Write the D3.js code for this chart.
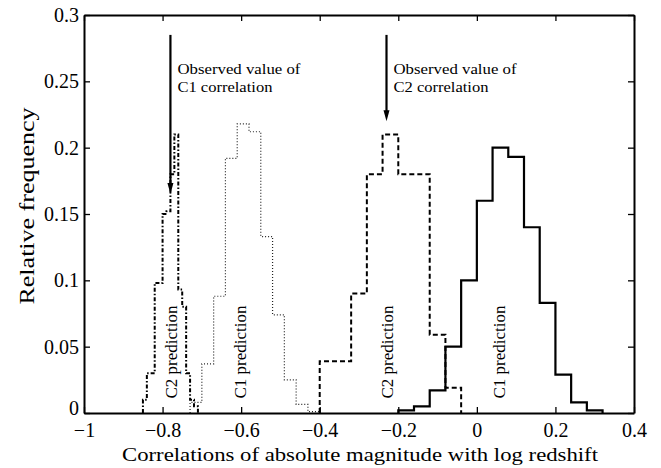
<!DOCTYPE html>
<html>
<head>
<meta charset="utf-8">
<script src="https://cdn.jsdelivr.net/npm/d3@7"></script>
<style>
  html, body { margin: 0; padding: 0; background: #fff; }
  svg { display: block; }
  text { font-family: "Liberation Serif", "DejaVu Serif", serif; fill: #000; }
</style>
</head>
<body>
<svg id="chart" width="661" height="468"></svg>
<script>
// ---- data ----
const xTicks = [-1, -0.8, -0.6, -0.4, -0.2, 0, 0.2, 0.4];
const yTicks = [0, 0.05, 0.1, 0.15, 0.2, 0.25, 0.3];

// C1 prediction (solid), bin edges and relative frequencies
const c1SolidEdges = [-0.2, -0.16, -0.12, -0.08, -0.04, 0, 0.04, 0.08, 0.12, 0.16, 0.2, 0.24, 0.28, 0.32];
const c1SolidFreq  = [0.002, 0.005, 0.017, 0.05, 0.1, 0.16, 0.2, 0.193, 0.14, 0.083, 0.029, 0.008, 0.002];

// C2 prediction (dashed)
const c2DashEdges = [-0.4, -0.36, -0.32, -0.28, -0.24, -0.2, -0.16, -0.12, -0.08, -0.04];
const c2DashFreq  = [0.039, 0.039, 0.09, 0.18, 0.21, 0.18, 0.18, 0.059, 0.019];

// C1 prediction (dotted)
const c1DotEdges = [-0.73, -0.70, -0.67, -0.64, -0.61, -0.58, -0.55, -0.52, -0.49, -0.46, -0.43, -0.40];
const c1DotFreq  = [0.008, 0.037, 0.088, 0.192, 0.218, 0.212, 0.133, 0.074, 0.025, 0.0065, 0.001];

// C2 prediction (dash-dot)
const c2DashDotEdges = [-0.85, -0.84, -0.83, -0.82, -0.81, -0.80, -0.79, -0.78, -0.77, -0.76, -0.75, -0.74, -0.73, -0.72, -0.71];
const c2DashDotFreq  = [0.01, 0.03, 0.03, 0.098, 0.098, 0.15, 0.152, 0.18, 0.21, 0.093, 0.08, 0.03, 0.01, 0.005];

// observed values (arrows)
const observedX     = [-0.78, -0.23];
const observedTop   = [0.285, 0.285];
const observedTip   = [0.165, 0.22];
const observedLine1 = ["Observed value of", "Observed value of"];
const observedLine2 = ["C1 correlation", "C2 correlation"];

// prediction labels
const predLabelX    = [-0.777, -0.6, -0.225, 0.06];
const predLabelText = ["C2 prediction", "C1 prediction", "C2 prediction", "C1 prediction"];
const predLabelY    = 0.046;

// ---- layout ----
const margin = { left: 84, right: 27, top: 15, bottom: 55 };
const W = 661, H = 468;
const svg = d3.select("#chart");

const x = d3.scaleLinear().domain([-1, 0.4]).range([margin.left, W - margin.right]);
const y = d3.scaleLinear().domain([0, 0.3]).range([H - margin.bottom, margin.top]);

const g = svg.append("g");

// step path builder
function stepPoints(edges, freq) {
  const pts = [[edges[0], 0]];
  freq.forEach((v, i) => { pts.push([edges[i], v]); pts.push([edges[i + 1], v]); });
  pts.push([edges[edges.length - 1], 0]);
  return pts;
}
const line = d3.line().x(d => x(d[0])).y(d => y(d[1]));

const series = [
  { edges: c1DotEdges, freq: c1DotFreq, width: 1.2, dash: "1,2", color: "#222" },
  { edges: c2DashDotEdges, freq: c2DashDotFreq, width: 2, dash: "4,2,1.5,2", color: "#000" },
  { edges: c2DashEdges, freq: c2DashFreq, width: 2, dash: "5,3", color: "#000" },
  { edges: c1SolidEdges, freq: c1SolidFreq, width: 2.2, dash: null, color: "#000" }
];
series.forEach(s => {
  g.append("path")
    .attr("d", line(stepPoints(s.edges, s.freq)))
    .attr("fill", "none")
    .attr("stroke", s.color)
    .attr("stroke-width", s.width)
    .attr("stroke-dasharray", s.dash)
    .attr("stroke-linejoin", "miter");
});

// axes (box with inward ticks on all sides)
const fmtX = d => d === 0 ? "0" : d3.format("")(d).replace("-", "\u2212");
const fmtY = d => String(d);

const axB = g.append("g").attr("transform", `translate(0,${y(0)})`)
  .call(d3.axisBottom(x).tickValues(xTicks).tickSizeInner(-6).tickSizeOuter(0).tickPadding(10).tickFormat(fmtX));
const axT = g.append("g").attr("transform", `translate(0,${y(0.3)})`)
  .call(d3.axisTop(x).tickValues(xTicks).tickSizeInner(-6).tickSizeOuter(0).tickFormat(""));
const axL = g.append("g").attr("transform", `translate(${x(-1)},0)`)
  .call(d3.axisLeft(y).tickValues(yTicks).tickSizeInner(-6).tickSizeOuter(0).tickPadding(5).tickFormat(fmtY));
const axR = g.append("g").attr("transform", `translate(${x(0.4)},0)`)
  .call(d3.axisRight(y).tickValues(yTicks).tickSizeInner(-6).tickSizeOuter(0).tickFormat(""));

[axB, axT, axL, axR].forEach(a => {
  a.select(".domain").attr("stroke", "#000").attr("stroke-width", 2);
  a.selectAll(".tick line").attr("stroke", "#000").attr("stroke-width", 1.3);
  a.selectAll("text").style("font-family", '"Liberation Serif", serif').style("font-size", "20px").attr("fill", "#000");
});
axB.selectAll("text").attr("dy", "0.71em");
axL.selectAll(".tick text").attr("x", -5);
// lift the "0" label slightly so it sits above the "−1" label as in the original
axL.selectAll(".tick").filter(d => d === 0).select("text").attr("y", -5);

// axis titles
svg.append("text")
  .attr("x", 360)
  .attr("y", 461)
  .attr("text-anchor", "middle")
  .attr("textLength", 476)
  .attr("lengthAdjust", "spacingAndGlyphs")
  .style("font-size", "19.5px")
  .text("Correlations of absolute magnitude with log redshift");

svg.append("text")
  .attr("transform", `translate(34,206) rotate(-90)`)
  .attr("text-anchor", "middle")
  .attr("textLength", 197)
  .attr("lengthAdjust", "spacingAndGlyphs")
  .style("font-size", "21px")
  .text("Relative frequency");

// observed arrows
observedX.forEach((ox, i) => {
  const ax = x(ox);
  g.append("line")
    .attr("x1", ax).attr("x2", ax)
    .attr("y1", y(observedTop[i])).attr("y2", y(observedTip[i]) - 8)
    .attr("stroke", "#000").attr("stroke-width", 2.2);
  g.append("path")
    .attr("d", `M${ax - 3},${y(observedTip[i]) - 11} L${ax + 3},${y(observedTip[i]) - 11} L${ax},${y(observedTip[i])} Z`)
    .attr("fill", "#000");
  g.append("text")
    .attr("x", ax + 7).attr("y", 74)
    .attr("textLength", 123).attr("lengthAdjust", "spacingAndGlyphs")
    .style("font-size", "15.5px")
    .text(observedLine1[i]);
  g.append("text")
    .attr("x", ax + 7).attr("y", 92)
    .attr("textLength", 95).attr("lengthAdjust", "spacingAndGlyphs")
    .style("font-size", "15.5px")
    .text(observedLine2[i]);
});

// prediction labels (rotated)
predLabelX.forEach((px, i) => {
  g.append("text")
    .attr("transform", `translate(${x(px) + 5},${y(predLabelY)}) rotate(-90)`)
    .attr("text-anchor", "middle")
    .style("font-size", "17px")
    .text(predLabelText[i]);
});
</script>
</body>
</html>
